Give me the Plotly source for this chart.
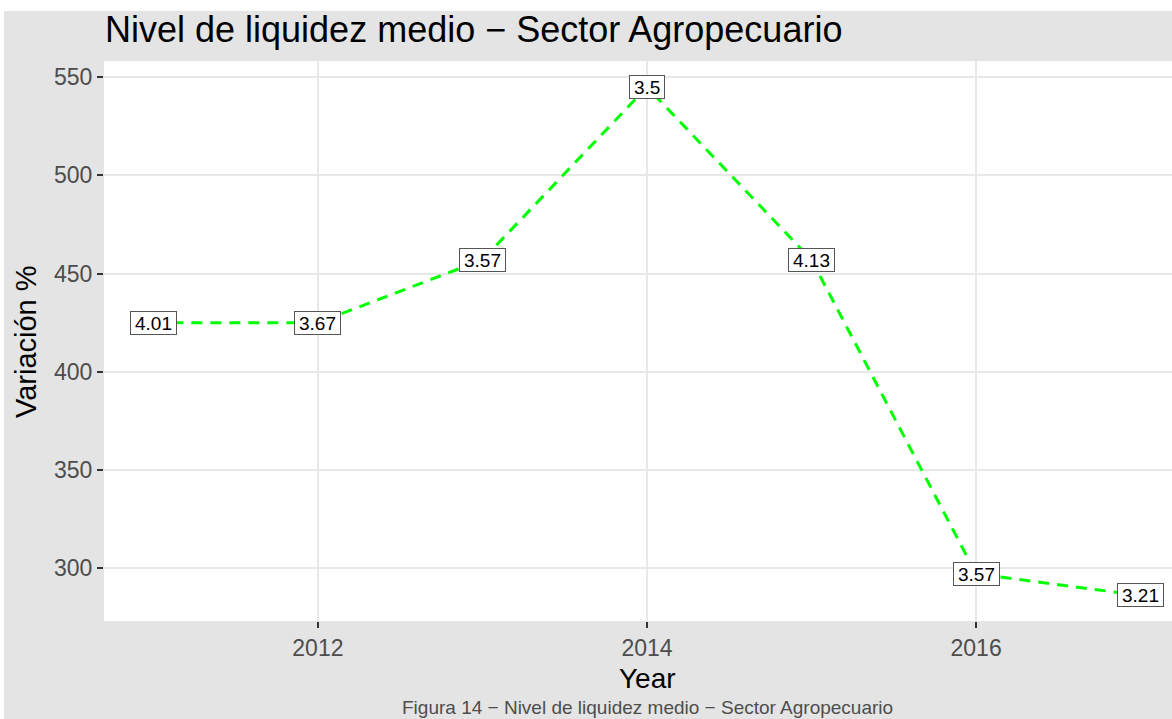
import plotly.graph_objects as go

years = [2011, 2012, 2013, 2014, 2015, 2016, 2017]
variacion = [425, 425, 457, 545, 457, 297, 286]
etiquetas = ["4.01", "3.67", "3.57", "3.5", "4.13", "3.57", "3.21"]

W, H = 1172, 719
L, R, T, B = 104, 0, 61, 98
pw, ph = W - L - R, H - T - B

def px_x(p):
    return (p - L) / pw

def px_y(p):
    return (H - B - p) / ph

FONT = "Liberation Sans, Arial, sans-serif"
GRAY_BG = "#E4E4E4"

fig = go.Figure()
fig.add_trace(go.Scatter(
    x=years, y=variacion, mode="lines",
    line=dict(color="#00FF00", width=3, dash="11px,8px"),
    hoverinfo="skip", showlegend=False,
))

LBL_SIZE = 19
def text_w(s, size):
    return sum(0.278 if c == "." else 0.556 for c in s) * size

for x, y, t in zip(years, variacion, etiquetas):
    fig.add_annotation(
        x=x, y=y, text=t, showarrow=False,
        width=text_w(t, LBL_SIZE) + 6, height=20,
        bgcolor="white", bordercolor="#555555", borderwidth=1, borderpad=1,
        font=dict(family=FONT, size=LBL_SIZE, color="black"),
    )

# white strips outside the gray plot background (top and left)
fig.add_shape(type="rect", xref="paper", yref="paper",
              x0=px_x(-5), x1=px_x(1180), y0=px_y(11), y1=px_y(-5),
              fillcolor="white", line=dict(width=0), layer="below")
fig.add_shape(type="rect", xref="paper", yref="paper",
              x0=px_x(-5), x1=px_x(4), y0=px_y(730), y1=px_y(-5),
              fillcolor="white", line=dict(width=0), layer="below")

fig.add_annotation(text="Nivel de liquidez medio \u2212 Sector Agropecuario",
                   xref="paper", yref="paper", x=px_x(103), y=px_y(30),
                   xanchor="left", yanchor="middle", showarrow=False,
                   font=dict(family=FONT, size=36, color="black"))
fig.add_annotation(text="Variación %", xref="paper", yref="paper",
                   x=px_x(26), y=px_y(342), textangle=-90,
                   xanchor="center", yanchor="middle", showarrow=False,
                   font=dict(family=FONT, size=29, color="black"))
fig.add_annotation(text="Year", xref="paper", yref="paper",
                   x=px_x(647), y=px_y(678),
                   xanchor="center", yanchor="middle", showarrow=False,
                   font=dict(family=FONT, size=28, color="black"))
fig.add_annotation(text="Figura 14 \u2212 Nivel de liquidez medio \u2212 Sector Agropecuario",
                   xref="paper", yref="paper", x=px_x(647), y=px_y(707),
                   xanchor="center", yanchor="middle", showarrow=False,
                   font=dict(family=FONT, size=19, color="#4D4D4D"))

fig.update_layout(
    width=W, height=H,
    margin=dict(l=L, r=R, t=T, b=B, pad=0),
    paper_bgcolor=GRAY_BG, plot_bgcolor="white",
    xaxis=dict(range=[2010.7, 2010.7 + 6.6 * (pw / (1190 - 104))],
               tickvals=[2012, 2014, 2016], ticktext=["2012", "2014", "2016"],
               showgrid=True, gridcolor="#E8E8E8", gridwidth=1.5,
               zeroline=False, showline=False,
               ticks="outside", ticklen=6, tickcolor="#333333", tickwidth=1.5,
               tickfont=dict(family=FONT, size=23, color="#4D4D4D")),
    yaxis=dict(range=[273.0, 558.3],
               tickvals=[300, 350, 400, 450, 500, 550],
               showgrid=True, gridcolor="#E8E8E8", gridwidth=1.5,
               zeroline=False, showline=False,
               ticks="outside", ticklen=6, tickcolor="#333333", tickwidth=1.5,
               tickfont=dict(family=FONT, size=23, color="#4D4D4D")),
)

fig.write_html("out.html", config={"displayModeBar": False},
               post_script="document.body.style.margin='0px';document.body.style.overflow='hidden';")
